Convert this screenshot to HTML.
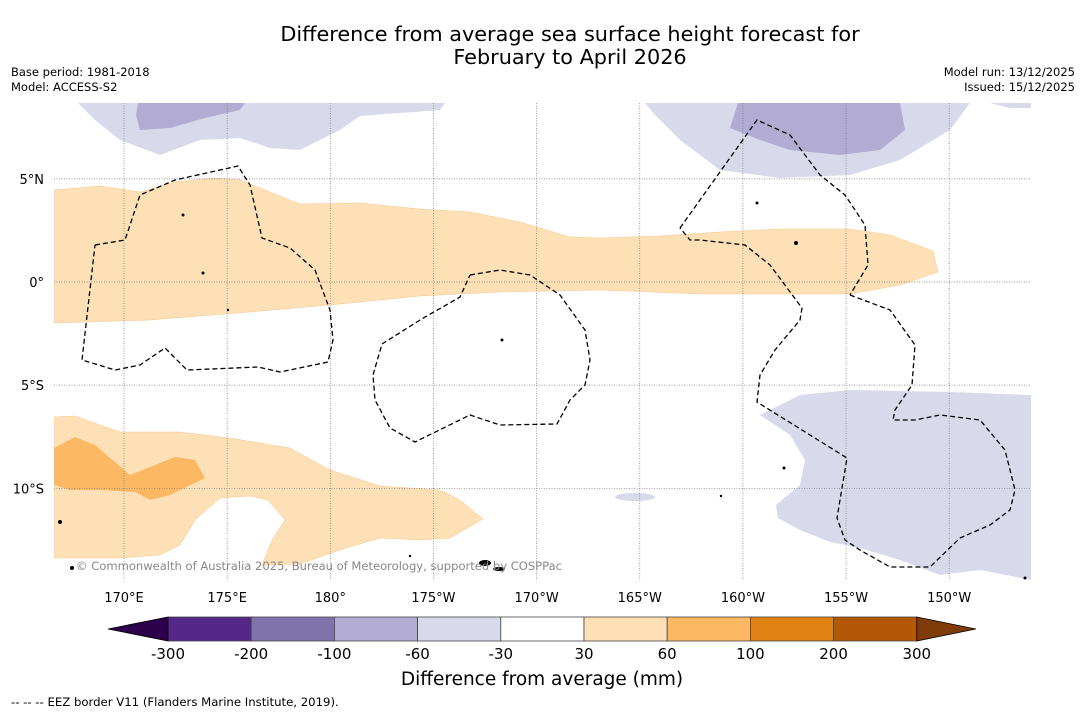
<!DOCTYPE html>
<html><head><meta charset="utf-8">
<style>
body{margin:0;background:#fff;font-family:"DejaVu Sans","Liberation Sans",sans-serif;}
svg text{font-family:"DejaVu Sans","Liberation Sans",sans-serif;}
</style></head>
<body>
<svg width="1085" height="713" viewBox="0 0 1085 713" xmlns="http://www.w3.org/2000/svg">
<rect width="1085" height="713" fill="#fff"/>
<text x="570" y="41" font-size="20.8" text-anchor="middle">Difference from average sea surface height forecast for</text>
<text x="570" y="64" font-size="20.8" text-anchor="middle">February to April 2026</text>
<text x="11" y="76" font-size="11.5">Base period: 1981-2018</text>
<text x="11" y="91" font-size="11.5">Model: ACCESS-S2</text>
<text x="1075" y="76" font-size="11.5" text-anchor="end">Model run: 13/12/2025</text>
<text x="1075" y="91" font-size="11.5" text-anchor="end">Issued: 15/12/2025</text>

<g>
<clipPath id="mc"><rect x="54" y="103" width="977" height="477"/></clipPath>
<g clip-path="url(#mc)">
<polygon fill="#fee0b6" stroke="#f5c890" stroke-width="0.5" points="54,190 100,186 140,192 175,182 215,178 240,180 270,192 300,204 360,203 420,209 470,212 520,222 570,237 600,238 660,236 720,232 780,229 850,229 890,235 933,251 938,272 900,285 850,294 700,294 600,290 500,292 420,296 330,305 250,312 150,320 54,323"/>
<polygon fill="#fee0b6" stroke="#f5c890" stroke-width="0.5" points="54,417 75,416 120,432 180,432 230,438 290,448 330,470 380,486 440,490 460,500 483,519 450,538 420,540 380,538 340,550 300,564 262,565 272,540 285,520 268,500 250,496 220,498 195,520 180,545 160,555 120,558 54,558"/>
<polygon fill="#fdb863" points="54,448 75,437 95,445 130,475 175,457 195,460 205,478 170,495 150,500 135,492 100,490 70,490 54,485"/>
<polygon fill="#d8daeb" points="78,103 445,103 440,110 360,116 340,130 300,150 270,148 240,138 200,140 160,155 120,140 95,120"/>
<polygon fill="#b2abd2" points="138,103 245,103 240,110 205,118 170,128 140,130 136,115"/>
<polygon fill="#d8daeb" points="645,103 1031,103 1031,108 1010,108 990,103 970,103 950,130 900,160 850,175 780,178 720,170 680,140 655,115"/>
<polygon fill="#b2abd2" points="738,103 900,103 905,130 880,150 840,155 790,150 760,140 730,128"/>
<polygon fill="#d8daeb" points="760,415 800,395 850,390 950,392 1031,395 1031,580 980,570 940,575 900,560 860,548 830,542 800,530 778,518 776,505 800,485 805,460 790,435"/>
<ellipse cx="635" cy="497" rx="20" ry="4" fill="#d8daeb"/>
</g>
<g id="grid" stroke="#777" stroke-width="0.7" stroke-dasharray="1,1.5"></g>
<g fill="none" stroke="#000" stroke-width="1.3" stroke-dasharray="5,3">
<polyline points="95,245 125,240 140,195 175,180 238,166 250,185 262,238 290,248 315,270 330,310 333,340 328,362 280,372 258,367 187,370 165,348 140,365 115,370 82,360 95,245"/>
<polyline points="470,275 500,270 530,275 560,295 585,330 590,360 585,385 570,400 557,424 500,425 470,415 415,442 390,428 375,400 373,375 382,344 420,320 460,297 470,275"/>
<polyline points="680,228 757,120 790,135 820,175 845,195 865,225 868,265 850,295"/>
<polyline points="850,295 890,310 915,345 912,385 895,410 893,420 915,420 940,415 980,420 1005,450 1015,490 1010,510 990,525 960,538 930,567 890,567 860,550 845,540 837,518 847,458 757,402 760,375 775,350 800,320 802,308 770,265 745,245 700,240 690,240 680,228"/>
</g>
<g fill="#000">
<ellipse cx="485" cy="563" rx="6" ry="3"/><ellipse cx="499" cy="569" rx="6" ry="2"/>
<circle cx="60" cy="522" r="2"/><circle cx="72" cy="568" r="2"/><circle cx="183" cy="215" r="1.5"/><circle cx="203" cy="273" r="1.5"/><circle cx="228" cy="310" r="1.2"/><circle cx="502" cy="340" r="1.5"/><circle cx="796" cy="243" r="2"/><circle cx="757" cy="203" r="1.5"/><circle cx="784" cy="468" r="1.5"/><circle cx="721" cy="496" r="1.2"/><circle cx="1025" cy="578" r="1.5"/><circle cx="410" cy="556" r="1.2"/>
</g>
<text x="76" y="570" font-size="11.2" fill="#888" textLength="486" lengthAdjust="spacingAndGlyphs">© Commonwealth of Australia 2025, Bureau of Meteorology, supported by COSPPac</text>
<g id="ticks" font-size="13"></g>
</g>

<g id="colorbar"></g>
<text x="542" y="685" font-size="18.5" text-anchor="middle">Difference from average (mm)</text>
<text x="11" y="706" font-size="11.7">--  --  -- EEZ border V11 (Flanders Marine Institute, 2019).</text>
</svg>
<script>
const lonLabels=["170°E","175°E","180°","175°W","170°W","165°W","160°W","155°W","150°W"];
const lonValues=[170,175,180,185,190,195,200,205,210];
const latLabels=["5°N","0°","5°S","10°S"];
const latValues=[5,0,-5,-10];
const cbBounds=[-300,-200,-100,-60,-30,30,60,100,200,300];
const cbColors=["#542788","#8073ac","#b2abd2","#d8daeb","#ffffff","#fee0b6","#fdb863","#e08214","#b35806"];
const cbExtendColors=["#2d004b","#7f3b08"];
const NS="http://www.w3.org/2000/svg";
const xLon=v=>124+(v-170)*20.63;
const yLat=v=>282-v*20.63;
const grid=document.getElementById('grid'),ticks=document.getElementById('ticks');
lonValues.forEach((v,i)=>{
 const l=document.createElementNS(NS,'line');
 
 
 l.setAttribute('x1',xLon(v));l.setAttribute('x2',xLon(v));l.setAttribute('y1',103);l.setAttribute('y2',580);
 grid.appendChild(l);
 const t=document.createElementNS(NS,'text');
 
 
 t.setAttribute('x',xLon(v));t.setAttribute('y',602);t.setAttribute('text-anchor','middle');
 t.textContent=lonLabels[i];ticks.appendChild(t);
});
latValues.forEach((v,i)=>{
 const l=document.createElementNS(NS,'line');
 
 
 l.setAttribute('x1',54);l.setAttribute('x2',1031);l.setAttribute('y1',yLat(v));l.setAttribute('y2',yLat(v));
 grid.appendChild(l);
 const t=document.createElementNS(NS,'text');
 
 
 t.setAttribute('x',44);t.setAttribute('y',yLat(v)+5);t.setAttribute('text-anchor','end');
 t.textContent=latLabels[i];ticks.appendChild(t);
});
const cb=document.getElementById('colorbar');
const x0=168,w=83.2,cbTop=617,h=24;
cbColors.forEach((c,i)=>{
 const r=document.createElementNS(NS,'rect');
 
 
 r.setAttribute('x',x0+i*w);r.setAttribute('y',cbTop);r.setAttribute('width',w);r.setAttribute('height',h);
 r.setAttribute('fill',c);r.setAttribute('stroke','#444');r.setAttribute('stroke-width','0.8');
 cb.appendChild(r);
});
const xe=x0+cbColors.length*w;
[[`${x0},${cbTop} ${x0-60},${cbTop+h/2} ${x0},${cbTop+h}`,cbExtendColors[0]],[`${xe},${cbTop} ${xe+59},${cbTop+h/2} ${xe},${cbTop+h}`,cbExtendColors[1]]].forEach(p=>{
 const g=document.createElementNS(NS,'polygon');
 
 
 g.setAttribute('points',p[0]);g.setAttribute('fill',p[1]);g.setAttribute('stroke','#000');g.setAttribute('stroke-width','0.8');
 cb.appendChild(g);
});
cbBounds.forEach((b,i)=>{
 const t=document.createElementNS(NS,'text');
 
 
 t.setAttribute('x',x0+i*w);t.setAttribute('y',659);t.setAttribute('text-anchor','middle');t.setAttribute('font-size','15');
 t.textContent=b;cb.appendChild(t);
});
</script>
</body></html>
